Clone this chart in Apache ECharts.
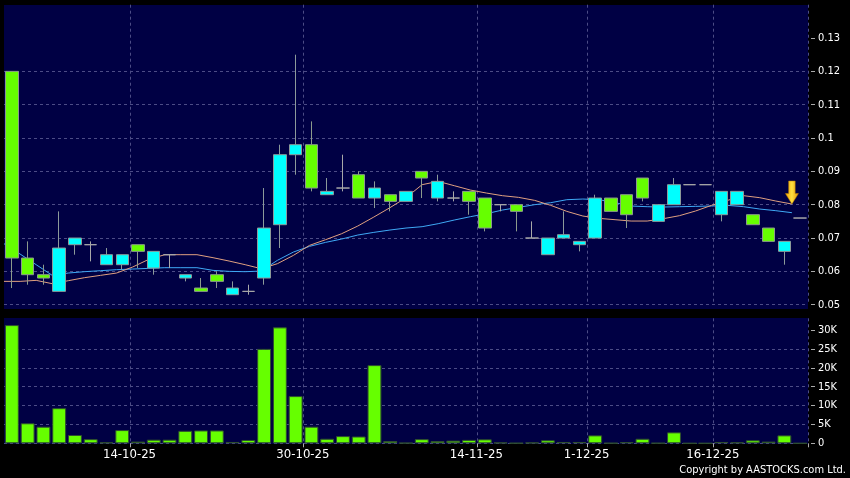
<!DOCTYPE html>
<html><head><meta charset="utf-8">
<script src="https://cdn.jsdelivr.net/npm/echarts@6/dist/echarts.min.js"></script>
<style>html,body{margin:0;padding:0;background:#000;}#c{width:850px;height:478px;}</style>
</head><body><div id="c"></div>
<script>
const dates = ['30-09-25','2-10-25','3-10-25','6-10-25','8-10-25','9-10-25','10-10-25','13-10-25','14-10-25','15-10-25',
 '16-10-25','17-10-25','20-10-25','21-10-25','22-10-25','23-10-25','24-10-25','27-10-25','28-10-25','30-10-25',
 '31-10-25','3-11-25','4-11-25','5-11-25','6-11-25','7-11-25','10-11-25','11-11-25','12-11-25','13-11-25',
 '14-11-25','17-11-25','19-11-25','20-11-25','24-11-25','26-11-25','28-11-25','1-12-25','2-12-25','3-12-25',
 '4-12-25','8-12-25','9-12-25','10-12-25','12-12-25','16-12-25','17-12-25','18-12-25','19-12-25','22-12-25','23-12-25'];
const labelDates = ['14-10-25','30-10-25','14-11-25','1-12-25','16-12-25'];
const openP  = [0.120,0.064,0.059,0.054,0.068,0.068,0.062,0.062,0.068,0.061,0.065,0.058,0.055,0.059,0.053,0.054,0.058,0.074,0.095,0.098,
 0.083,0.085,0.089,0.082,0.083,0.081,0.090,0.082,0.082,0.084,0.082,0.080,0.080,0.070,0.065,0.070,0.068,0.070,0.082,0.083,
 0.088,0.075,0.080,0.086,0.086,0.077,0.080,0.077,0.073,0.066,0.076];
const closeP = [0.064,0.059,0.058,0.067,0.070,0.068,0.065,0.065,0.066,0.066,0.065,0.059,0.054,0.057,0.055,0.054,0.073,0.095,0.098,0.085,
 0.084,0.085,0.082,0.085,0.081,0.084,0.088,0.087,0.082,0.081,0.073,0.080,0.078,0.070,0.070,0.071,0.069,0.082,0.078,0.077,
 0.082,0.080,0.086,0.086,0.086,0.084,0.084,0.074,0.069,0.069,0.076];
const lowP   = [0.055,0.056,0.056,0.054,0.065,0.063,0.062,0.0605,0.061,0.059,0.061,0.057,0.054,0.055,0.053,0.053,0.056,0.067,0.089,0.084,
 0.083,0.084,0.082,0.079,0.078,0.081,0.082,0.081,0.081,0.077,0.072,0.078,0.072,0.070,0.065,0.070,0.066,0.070,0.078,0.073,
 0.081,0.075,0.080,0.086,0.086,0.075,0.080,0.074,0.069,0.062,0.076];
const highP  = [0.120,0.069,0.062,0.078,0.070,0.069,0.067,0.065,0.068,0.066,0.065,0.059,0.058,0.060,0.057,0.056,0.085,0.098,0.125,0.105,
 0.088,0.095,0.090,0.087,0.083,0.084,0.090,0.089,0.084,0.084,0.082,0.080,0.080,0.075,0.070,0.078,0.069,0.083,0.082,0.083,
 0.088,0.080,0.088,0.086,0.086,0.084,0.084,0.077,0.073,0.069,0.076];
const maShort = [0.0570,0.0570,0.0573,0.0563,0.0572,0.0581,0.0588,0.0595,0.0613,0.0636,0.0650,0.0650,0.0650,0.0641,0.0631,0.0620,0.0608,0.0623,0.0648,0.0678,
 0.0695,0.0713,0.0736,0.0763,0.0791,0.0821,0.0860,0.0870,0.0857,0.0844,0.0835,0.0827,0.0822,0.0813,0.0798,0.0780,0.0766,0.0759,0.0755,0.0751,
 0.0751,0.0758,0.0767,0.0781,0.0798,0.0813,0.0827,0.0821,0.0811,0.0802,null];
const maLong = [0.0683,0.0652,0.0620,0.0588,0.0595,0.0599,0.0602,0.0605,0.0607,0.0609,0.0611,0.0611,0.0611,0.0603,0.0600,0.0599,0.0601,0.0633,0.0658,0.0675,
 0.0687,0.0697,0.0709,0.0717,0.0724,0.0730,0.0734,0.0743,0.0754,0.0764,0.0773,0.0784,0.0792,0.0800,0.0806,0.0815,0.0817,0.0815,0.0806,0.0796,
 0.0794,0.0793,0.0794,0.0795,0.0796,0.0798,0.0794,0.0787,0.0782,0.0776,null];
const volume = [31300,5300,4400,9300,2200,1100,250,3500,450,960,960,3300,3400,3400,350,880,25000,30700,12500,4400,
 1200,1900,1800,20700,600,100,1100,600,700,900,1050,200,50,200,800,350,350,2100,50,300,
 1200,50,2900,0,0,350,250,800,450,2100,0];
const priceTicks = [0.05,0.06,0.07,0.08,0.09,0.1,0.11,0.12,0.13];
const volTicks = [0,5000,10000,15000,20000,25000,30000];

const L = 4, R = 808, T0 = 4.7, H0 = 300, T1 = 318.3, H1 = 125;
const NAVY = '#000044';
const GRIDC = '#4c4c86';
const FONT = "'DejaVu Sans Condensed','DejaVu Sans',sans-serif";
const showIdx = (i) => labelDates.indexOf(dates[i]) >= 0;
const candleData = dates.map((d, i) => [openP[i], closeP[i], lowP[i], highP[i]]);

const chart = echarts.init(document.getElementById('c'), null, {renderer: 'canvas'});
const vSplit = {show: true, interval: (i) => showIdx(i), lineStyle: {color: GRIDC, type: [3, 3], width: 1}};
const hSplit = {show: true, showMaxLine: false, lineStyle: {color: GRIDC, type: [3, 3], width: 1}};
chart.setOption({
  backgroundColor: '#000',
  animation: false,
  title: {text: 'Copyright by AASTOCKS.com Ltd.', right: 4, bottom: 2, padding: 0,
    textStyle: {color: '#ffffff', fontSize: 11, fontWeight: 'normal', fontFamily: FONT}},
  graphic: {elements: [
    {type: 'rect', z: -10, shape: {x: L, y: 5, width: R - L, height: 304}, style: {fill: NAVY}, silent: true},
    {type: 'rect', z: -10, shape: {x: L, y: 318, width: R - L, height: 126}, style: {fill: NAVY}, silent: true}
  ]},
  grid: [
    {left: L, right: 850 - R, top: T0, height: H0},
    {left: L, right: 850 - R, top: T1, height: H1}
  ],
  xAxis: [
    {type: 'category', gridIndex: 0, data: dates, boundaryGap: true,
      axisLine: {show: false}, axisTick: {show: false}, axisLabel: {show: false}, splitLine: vSplit},
    {type: 'category', gridIndex: 1, data: dates, boundaryGap: true,
      axisLine: {show: false},
      axisTick: {show: true, interval: (i) => showIdx(i), length: 4, lineStyle: {color: '#aaaaaa'}},
      axisLabel: {show: true, interval: (i) => showIdx(i), color: '#ffffff', fontSize: 13, fontFamily: FONT,
        margin: 5, padding: [0, 17, 0, 0]},
      splitLine: vSplit},
    {type: 'category', gridIndex: 0, data: dates, boundaryGap: false, show: false}
  ],
  yAxis: [
    {type: 'value', gridIndex: 0, position: 'right', min: 0.05, max: 0.14, interval: 0.01, offset: 3,
      axisLine: {show: false},
      axisTick: {show: true, length: 4, customValues: priceTicks, lineStyle: {color: '#aaaaaa'}},
      axisLabel: {color: '#ffffff', fontSize: 11, fontFamily: FONT, margin: 7, customValues: priceTicks},
      splitLine: hSplit},
    {type: 'value', gridIndex: 1, position: 'right', min: 0, max: 33100, interval: 5000, offset: 3,
      axisLine: {show: false},
      axisTick: {show: true, length: 4, customValues: volTicks, lineStyle: {color: '#aaaaaa'}},
      axisLabel: {color: '#ffffff', fontSize: 11, fontFamily: FONT, margin: 7, customValues: volTicks,
        formatter: (v) => v === 0 ? '0' : (v / 1000) + 'K'},
      splitLine: hSplit}
  ],
  series: [
    {type: 'line', xAxisIndex: 2, yAxisIndex: 0, data: maLong, showSymbol: false, symbol: 'none',
      lineStyle: {color: '#3fa9f5', width: 1}, z: 3},
    {type: 'line', xAxisIndex: 2, yAxisIndex: 0, data: maShort, showSymbol: false, symbol: 'none',
      lineStyle: {color: '#e0a080', width: 1}, z: 3,
      markPoint: {symbol: 'path://M3,0 L9,0 L9,12 L12,12 L6,22 L0,12 L3,12 Z', symbolSize: [13, 23],
        symbolOffset: [0, '-50%'], label: {show: false}, silent: true,
        itemStyle: {color: new echarts.graphic.LinearGradient(0, 0, 1, 0, [
          {offset: 0, color: '#f0a000'}, {offset: 0.5, color: '#ffe040'}, {offset: 1, color: '#e09000'}]),
          borderColor: '#c08000', borderWidth: 0.5},
        data: [{coord: [maShort.length - 2, maShort[maShort.length - 2]]}]}},
    {type: 'candlestick', xAxisIndex: 0, yAxisIndex: 0, data: candleData, barWidth: '82%', z: 4,
      itemStyle: {color: '#00ffff', color0: '#66ff00', borderColor: '#8c9a9a', borderColor0: '#8c9a8c',
        borderColorDoji: '#a8a8a8', borderWidth: 1}},
    {type: 'bar', xAxisIndex: 1, yAxisIndex: 1, data: volume, barWidth: '88%', clip: false,
      itemStyle: {color: '#66ff00', borderColor: '#2f4f2f', borderWidth: 1}}
  ]
});
</script></body></html>
